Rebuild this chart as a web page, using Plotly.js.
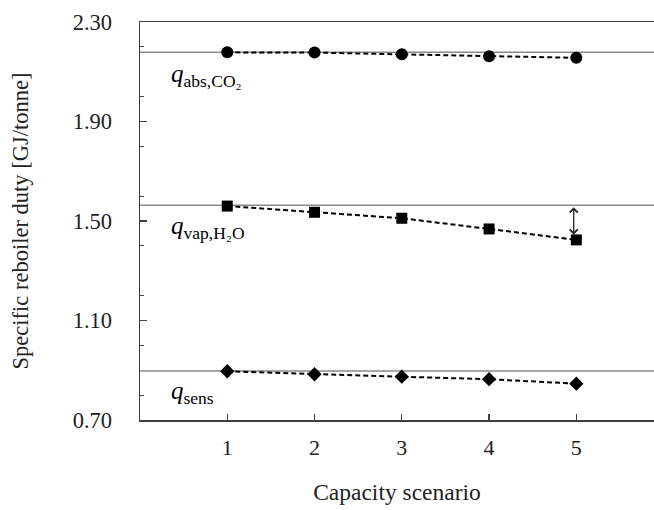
<!DOCTYPE html>
<html>
<head>
<meta charset="utf-8">
<script src="https://cdn.plot.ly/plotly-3.0.1.min.js"></script>
<style>
  html, body { margin: 0; padding: 0; background: #ffffff; }
  #chart { width: 654px; height: 510px; }
</style>
</head>
<body>
<div id="chart"></div>
<script>
// Capacity scenarios on the x axis
const scenarios = [1, 2, 3, 4, 5];

// Specific reboiler duty contributions [GJ/tonne]
const qAbsCO2 = [2.178, 2.177, 2.170, 2.162, 2.156];
const qVapH2O = [1.560, 1.535, 1.511, 1.468, 1.424];
const qSens   = [0.896, 0.884, 0.874, 0.864, 0.846];

// Base-case levels drawn as horizontal reference lines
const baseLevels = [2.178, 1.563, 0.897];

// Series labels placed just under each reference line
const seriesLabels = [
  "<i>q</i><sub>abs,CO₂</sub>",
  "<i>q</i><sub>vap,H₂O</sub>",
  "<i>q</i><sub>sens</sub>"
];
const labelLevels = [2.085, 1.475, 0.81];

const yTickVals = [0.70, 1.10, 1.50, 1.90, 2.30];

const serif = "Liberation Serif, Times New Roman, serif";

function series(y, symbol, size) {
  return {
    x: scenarios, y: y, type: "scatter", mode: "lines+markers",
    line: { color: "#000000", width: 2, dash: "5px,3px" },
    marker: { symbol: symbol, size: size, color: "#000000" },
    showlegend: false, hoverinfo: "x+y"
  };
}

const data = [
  series(qAbsCO2, "circle", 12),
  series(qVapH2O, "square", 11),
  series(qSens, "diamond", 11)
];

const shapes = baseLevels.map(v => ({
  type: "line", xref: "paper", yref: "y",
  x0: 0, x1: 1, y0: v, y1: v,
  line: { color: "#8a8a8a", width: 1.5 },
  layer: "below"
}));

const annotations = seriesLabels.map((t, i) => ({
  x: 0.33, y: labelLevels[i], xref: "x", yref: "y",
  text: t, showarrow: false, xanchor: "left", yanchor: "middle",
  font: { family: serif, size: 25, color: "#000000" }
}));

// Double-headed arrow: drop of the vapour term at the last scenario
annotations.push({
  x: scenarios[4] - 0.03, y: baseLevels[1] - 0.008,
  ax: scenarios[4] - 0.03, ay: qVapH2O[4] + 0.015,
  xref: "x", yref: "y", axref: "x", ayref: "y",
  text: "", showarrow: true,
  arrowhead: 4, startarrowhead: 4, arrowside: "end+start",
  arrowsize: 1.2, startarrowsize: 1.2, arrowwidth: 1.3, arrowcolor: "#222222"
});

const layout = {
  width: 654, height: 510,
  margin: { l: 140, r: 0, t: 22, b: 90 },
  paper_bgcolor: "#ffffff", plot_bgcolor: "#ffffff",
  font: { family: serif, size: 20, color: "#222222" },
  xaxis: {
    range: [0, 5.89],
    tickvals: scenarios, ticktext: scenarios.map(String),
    ticks: "inside", ticklen: 6, tickwidth: 1.2, tickcolor: "#404040",
    showline: true, linecolor: "#404040", linewidth: 1.5, mirror: true,
    showgrid: false, zeroline: false,
    ticklabelstandoff: 7,
    tickfont: { family: serif, size: 22, color: "#222222" },
    title: { text: "Capacity scenario", standoff: 24,
             font: { family: serif, size: 23.5, color: "#222222" } }
  },
  yaxis: {
    range: [0.70, 2.30],
    tickvals: yTickVals, ticktext: yTickVals.map(v => v.toFixed(2)),
    ticks: "inside", ticklen: 7, tickwidth: 1.2, tickcolor: "#404040",
    minor: { dtick: 0.2, ticks: "inside", ticklen: 4, tickwidth: 1.2, tickcolor: "#404040", showgrid: false },
    showline: true, linecolor: "#404040", linewidth: 1.5,
    showgrid: false, zeroline: false,
    ticklabelstandoff: 22,
    tickfont: { family: serif, size: 22.5, color: "#222222" },
    title: { text: "Specific reboiler duty [GJ/tonne]", standoff: 38,
             font: { family: serif, size: 22.5, color: "#222222" } }
  },
  shapes: shapes,
  annotations: annotations
};

Plotly.newPlot("chart", data, layout, { displayModeBar: false, staticPlot: true });
</script>
</body>
</html>
